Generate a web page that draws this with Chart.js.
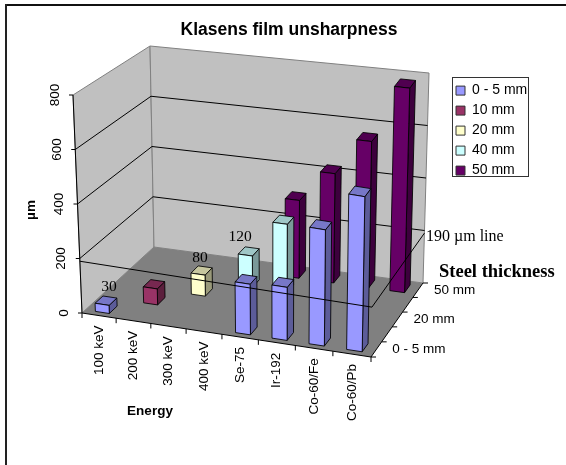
<!DOCTYPE html>
<html>
<head>
<meta charset="utf-8">
<style>html,body{margin:0;padding:0;background:#fff}canvas{display:block}</style>
<script src="https://cdn.jsdelivr.net/npm/chart.js@4"></script>
</head>
<body>
<canvas id="c" width="566" height="465"></canvas>
<script>
const categories = ['100 keV','200 keV','300 keV','400 keV','Se-75','Ir-192','Co-60/Fe','Co-60/Pb'];
const depths = ['0 - 5 mm','10 mm','20 mm','40 mm','50 mm'];
const series0to5 = [30,null,null,null,190,200,440,590];
const series10   = [null,60,null,null,null,null,null,null];
const series20   = [null,null,80,null,null,null,null,null];
const series40   = [null,null,null,120,260,null,null,null];
const series50   = [null,null,null,null,300,420,560,780];
const yTicks = [0,200,400,600,800];
const referenceValue = 190;
const referenceLabel = '190 µm line';
const depthAxisTitle = 'Steel thickness';
const valueAxisTitle = 'µm';
const categoryAxisTitle = 'Energy';
const chartTitle = 'Klasens film unsharpness';
const valueLabels = ['30','80','120'];

const palette = ['#9999FF','#993366','#FFFFCC','#CCFFFF','#660066'];
const SANS = '"Liberation Sans", Arial, sans-serif';
const SERIF = '"Liberation Serif", "Times New Roman", serif';

// Box of the 3D plot on the page: front/back, left/right, bottom/top
const box = {
  flb:[82,313], frb:[371,357], blb:[154,247], brb:[423,283],
  flt:[73,95],  frt:[375,147], blt:[150,46],  brt:[429,73]
};
const warpU = u => u - 0.063*u*(1-u);
const warpT = t => t + 0.03*t*(1-t);
const mix = (a,b,k) => [a[0]+(b[0]-a[0])*k, a[1]+(b[1]-a[1])*k];
function project(u,t,h){
  const uu = warpU(u), tt = warpT(t);
  const bot = mix(mix(box.flb,box.frb,uu), mix(box.blb,box.brb,uu), tt);
  const top = mix(mix(box.flt,box.frt,uu), mix(box.blt,box.brt,uu), tt);
  return mix(bot,top,h);
}
function poly(ctx,pts,fill,stroke,lw){
  ctx.beginPath();
  pts.forEach((p,i)=> i?ctx.lineTo(p[0],p[1]):ctx.moveTo(p[0],p[1]));
  ctx.closePath();
  if(fill){ctx.fillStyle=fill;ctx.fill();}
  if(stroke){ctx.strokeStyle=stroke;ctx.lineWidth=lw||1;ctx.stroke();}
}
function seg(ctx,a,b,color,lw){
  ctx.beginPath();ctx.moveTo(a[0],a[1]);ctx.lineTo(b[0],b[1]);
  ctx.strokeStyle=color;ctx.lineWidth=lw||1;ctx.stroke();
}
function shade(hex,k){
  const n=parseInt(hex.slice(1),16);
  return 'rgb('+[(n>>16)&255,(n>>8)&255,n&255].map(v=>Math.round(v*k)).join(',')+')';
}
function text(ctx,str,x,y,font,align,rot,color){
  ctx.save();ctx.translate(x,y);if(rot)ctx.rotate(rot);
  ctx.font=font;ctx.textAlign=align||'left';ctx.textBaseline='middle';ctx.fillStyle=color||'#000';
  ctx.fillText(str,0,0);ctx.restore();
}

const plot3d = {
  id:'plot3d',
  afterLayout(chart){
    const l = chart.legend;
    l.left=450; l.right=528; l.top=77.6; l.bottom=200;
  },
  beforeDatasetsDraw(chart){
    const ctx=chart.ctx, xs=chart.scales.x, ys=chart.scales.y, zs=chart.scales.z;
    const hOf = v => (ys.bottom-ys.getPixelForValue(v))/ys.height;
    ctx.save();
    // frame (top and left only)
    seg(ctx,[5,5],[566,5],'#111',2);
    seg(ctx,[6,4],[6,465],'#222',2);
    // walls and floor
    poly(ctx,[project(0,0,0),project(0,1,0),project(0,1,1),project(0,0,1)],'#C0C0C0','#808080');
    poly(ctx,[project(0,1,0),project(1,1,0),project(1,1,1),project(0,1,1)],'#C0C0C0','#808080');
    poly(ctx,[project(0,0,0),project(1,0,0),project(1,1,0),project(0,1,0)],'#808080');
    // gridlines
    yTicks.forEach(v=>{
      if(v===yTicks[0]||v===yTicks[yTicks.length-1])return;
      const h=hOf(v);
      seg(ctx,project(0,0,h),project(0,1,h),'#000');
      seg(ctx,project(0,1,h),project(1,1,h),'#000');
    });
    // axes
    seg(ctx,project(0,0,0),project(0,0,1),'#000');
    seg(ctx,project(0,0,0),project(1,0,0),'#000');
    seg(ctx,project(1,0,0),project(1,1,0),'#000');
    yTicks.forEach(v=>{
      const p=project(0,0,hOf(v));
      seg(ctx,[p[0]-4,p[1]],p,'#000');
      text(ctx,String(v),p[0]-18,p[1],'13.5px '+SANS,'center',-Math.PI/2);
    });
    const nc=categories.length;
    for(let i=0;i<=nc;i++){
      const p=project(i/nc,0,0);
      seg(ctx,p,[p[0],p[1]+5],'#000');
    }
    categories.forEach((c,i)=>{
      const u=(xs.getPixelForValue(i)-xs.left)/xs.width;
      const p=project(u,0,0);
      text(ctx,c,p[0],p[1]+10,'13.5px '+SANS,'right',-Math.PI/2);
    });
    const nd=depths.length;
    for(let i=0;i<=nd;i++){
      const p=project(1,i/nd,0);
      seg(ctx,p,[p[0]+5,p[1]],'#000');
    }
    depths.forEach((d,i)=>{
      if(i%2)return;
      const t=(zs.getPixelForValue(i)-zs.left)/zs.width;
      const p=project(1,t,0);
      text(ctx,d,p[0]+16,p[1],'13.5px '+SANS,'left');
    });
    // bars, back row first
    const band=zs.width/nd;
    for(let d=chart.data.datasets.length-1;d>=0;d--){
      const ds=chart.data.datasets[d], meta=chart.getDatasetMeta(d), col=ds.backgroundColor;
      const tc=(zs.getPixelForValue(d)-zs.left)/zs.width;
      const t0=tc-0.27*band/zs.width, t1=tc+0.27*band/zs.width;
      meta.data.forEach((el,i)=>{
        if(ds.data[i]===null)return;
        const u0=(el.x-el.width/2-xs.left)/xs.width, u1=(el.x+el.width/2-xs.left)/xs.width;
        const h=(el.base-el.y)/ys.height;
        const edge='rgba(0,0,0,0.85)';
        poly(ctx,[project(u1,t0,0),project(u1,t1,0),project(u1,t1,h),project(u1,t0,h)],shade(col,0.6),edge);
        poly(ctx,[project(u0,t0,h),project(u1,t0,h),project(u1,t1,h),project(u0,t1,h)],shade(col,0.78),edge);
        poly(ctx,[project(u0,t0,0),project(u1,t0,0),project(u1,t0,h),project(u0,t0,h)],col,edge);
      });
    }
    // reference line at the 190 µm level
    const rh=hOf(referenceValue);
    seg(ctx,project(0,0,rh),project(1,0,rh),'#000');
    seg(ctx,project(1,0,rh),project(1,1,rh),'#000');
    // annotations
    const vf='15.5px '+SERIF;
    text(ctx,valueLabels[0],109,287,vf,'center');
    text(ctx,valueLabels[1],200,258,vf,'center');
    text(ctx,valueLabels[2],240,237,vf,'center');
    text(ctx,referenceLabel,426,237,'16px '+SERIF,'left');
    text(ctx,depthAxisTitle,439,272,'bold 18.5px '+SERIF,'left');
    text(ctx,categoryAxisTitle,150,411,'bold 13.5px '+SANS,'center');
    text(ctx,valueAxisTitle,31,210,'bold 13.5px '+SANS,'center',-Math.PI/2);
    // legend frame
    ctx.strokeStyle='#333';ctx.lineWidth=1;ctx.strokeRect(452.5,77.5,76,99);
    ctx.restore();
    return false;
  }
};

new Chart(document.getElementById('c'),{
  type:'bar',
  data:{
    labels:categories,
    datasets:[
      {label:depths[0],data:series0to5,backgroundColor:palette[0]},
      {label:depths[1],data:series10,backgroundColor:palette[1]},
      {label:depths[2],data:series20,backgroundColor:palette[2]},
      {label:depths[3],data:series40,backgroundColor:palette[3]},
      {label:depths[4],data:series50,backgroundColor:palette[4]}
    ].map(d=>Object.assign(d,{grouped:false,barPercentage:0.41,categoryPercentage:1,borderColor:'#333',borderWidth:1}))
  },
  options:{
    responsive:false,
    animation:false,
    layout:{padding:{left:12}},
    scales:{
      x:{type:'category',display:false,offset:true},
      y:{type:'linear',display:false,min:yTicks[0],max:yTicks[yTicks.length-1],ticks:{stepSize:200}},
      z:{type:'category',axis:'x',labels:depths,display:false,offset:true,position:'bottom'}
    },
    plugins:{
      title:{display:true,text:chartTitle,color:'#000',font:{family:SANS,size:17.5,weight:'bold',lineHeight:1.2},padding:{top:20,bottom:10}},
      legend:{
        display:true,position:'right',align:'start',
        labels:{boxWidth:9,boxHeight:9,padding:6,color:'#000',font:{family:SANS,size:14,lineHeight:1.2}}
      },
      tooltip:{enabled:false}
    }
  },
  plugins:[plot3d]
});
</script>
</body>
</html>
